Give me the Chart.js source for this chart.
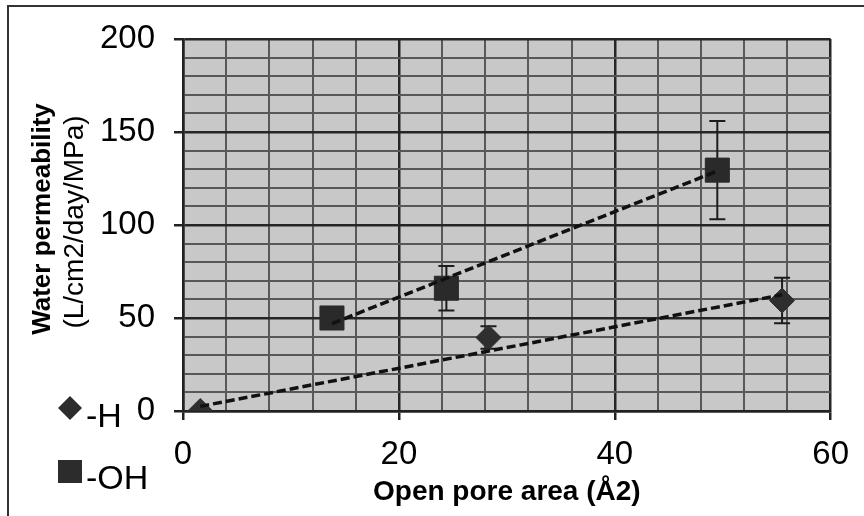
<!DOCTYPE html>
<html><head><meta charset="utf-8">
<script src="https://cdn.jsdelivr.net/npm/chart.js@4.4.1/dist/chart.umd.min.js"></script>
<style>html,body{margin:0;padding:0;background:#fff;}#wrap{position:relative;width:864px;height:516px;}</style>
</head><body><div id="wrap"><canvas id="c" width="864" height="516"></canvas></div>
<script>
// ---- data ----
const hArea = [1.6, 28.3, 55.5];
const hPerm = [0, 39.5, 59.4];
const hErr = [0, 6, 12.2];
const ohArea = [13.8, 24.4, 49.5];
const ohPerm = [50, 66, 129.5];
const ohErr = [0, 12, 26.4];
const hTrendArea = [1.6, 55.5];
const hTrendPerm = [2.5, 62.5];
const ohTrendArea = [13.8, 49.5];
const ohTrendPerm = [47, 129];
const xTickLabels = [0, 20, 40, 60];
const yTickLabels = [0, 50, 100, 150, 200];
const seriesNames = ['-H', '-OH'];
const xTitle = 'Open pore area (Å2)';
const yTitle1 = 'Water permeability';
const yTitle2 = '(L/cm2/day/MPa)';

const FONT = "'Liberation Sans', Arial, Helvetica, sans-serif";
const pts = (xs, ys) => xs.map((x, i) => ({x: x, y: ys[i]}));
const isMajor = (v, m) => Math.abs(v / m - Math.round(v / m)) < 1e-6;

const bgPlugin = {
  id: 'bg',
  beforeDraw(chart) {
    const {ctx, chartArea: a} = chart;
    ctx.save();
    ctx.fillStyle = '#ffffff';
    ctx.fillRect(0, 0, chart.width, chart.height);
    ctx.fillStyle = '#c8c8c8';
    ctx.fillRect(a.left, a.top, a.right - a.left, a.bottom - a.top);
    ctx.restore();
  }
};

const errPlugin = {
  id: 'errbars',
  beforeDatasetsDraw(chart) {
    const {ctx, scales: {x, y}} = chart;
    const sets = [[hArea, hPerm, hErr], [ohArea, ohPerm, ohErr]];
    ctx.save();
    ctx.strokeStyle = '#1c1c1c';
    ctx.lineWidth = 2;
    sets.forEach(([xs, ys, es]) => {
      xs.forEach((xv, i) => {
        if (!es[i]) return;
        const px = x.getPixelForValue(xv);
        const t = y.getPixelForValue(ys[i] + es[i]);
        const b = y.getPixelForValue(ys[i] - es[i]);
        ctx.beginPath();
        ctx.moveTo(px, t); ctx.lineTo(px, b);
        ctx.moveTo(px - 8, t); ctx.lineTo(px + 8, t);
        ctx.moveTo(px - 8, b); ctx.lineTo(px + 8, b);
        ctx.stroke();
      });
    });
    ctx.restore();
  }
};

const decoPlugin = {
  id: 'deco',
  afterDraw(chart) {
    const {ctx, chartArea: a} = chart;
    ctx.save();
    // outer frame (top and left)
    ctx.strokeStyle = '#333';
    ctx.lineWidth = 2;
    ctx.beginPath();
    ctx.moveTo(864, 6); ctx.lineTo(8, 6); ctx.lineTo(8, 516);
    ctx.stroke();
    // y title
    const cy = (a.top + a.bottom) / 2 - 6;
    ctx.fillStyle = '#000';
    ctx.textAlign = 'center';
    ctx.textBaseline = 'alphabetic';
    ctx.save();
    ctx.translate(50, cy); ctx.rotate(-Math.PI / 2);
    ctx.font = 'bold 26px ' + FONT;
    ctx.fillText(yTitle1, 0, 0);
    ctx.restore();
    ctx.save();
    ctx.translate(83, cy + 3); ctx.rotate(-Math.PI / 2);
    ctx.font = '28px ' + FONT;
    ctx.fillText(yTitle2, 0, 0);
    ctx.restore();
    // legend
    ctx.fillStyle = '#2c2c2c';
    ctx.beginPath();
    ctx.moveTo(70, 396); ctx.lineTo(82, 408); ctx.lineTo(70, 420); ctx.lineTo(58, 408); ctx.closePath();
    ctx.fill();
    ctx.fillRect(58, 460, 24, 23);
    ctx.fillStyle = '#000';
    ctx.textAlign = 'left';
    ctx.font = '34px ' + FONT;
    ctx.fillText(seriesNames[0], 86, 427);
    ctx.fillText(seriesNames[1], 86, 489);
    ctx.restore();
  }
};

const gridColor = (m) => (c) => isMajor(c.tick.value, m) ? '#262626' : '#585858';
const gridWidth = (m) => (c) => isMajor(c.tick.value, m) ? 2.5 : 2;
const tickColor = (m) => (c) => isMajor(c.tick.value, m) ? '#222' : 'rgba(0,0,0,0)';

new Chart(document.getElementById('c'), {
  type: 'scatter',
  data: {
    datasets: [
      {label: seriesNames[0] + ' trend', data: pts(hTrendArea, hTrendPerm), showLine: true,
       borderColor: '#111', borderWidth: 3.5, borderDash: [9, 4], pointRadius: 0, order: 0},
      {label: seriesNames[1] + ' trend', data: pts(ohTrendArea, ohTrendPerm), showLine: true,
       borderColor: '#111', borderWidth: 3.5, borderDash: [9, 4], pointRadius: 0, order: 0},
      {label: seriesNames[0], data: pts(hArea, hPerm), pointStyle: 'rectRot', pointRadius: 12.5,
       backgroundColor: '#2e2e2e', borderColor: '#2e2e2e', borderWidth: 1, order: 1},
      {label: seriesNames[1], data: pts(ohArea, ohPerm), pointStyle: 'rect', pointRadius: 17,
       backgroundColor: '#2a2a2a', borderColor: '#2a2a2a', borderWidth: 1, order: 1}
    ]
  },
  options: {
    responsive: false,
    animation: false,
    devicePixelRatio: 1,
    layout: {padding: {left: 0, right: 31, top: 39, bottom: 0}},
    plugins: {legend: {display: false}, tooltip: {enabled: false}},
    scales: {
      x: {
        type: 'linear', position: 'bottom', min: 0, max: 60,
        afterFit: (s) => { s.height = 105; },
        ticks: {stepSize: 4, autoSkip: false, maxRotation: 0, padding: 15,
          callback: (v) => xTickLabels.includes(v) ? String(v) : '',
          font: {size: 33, family: FONT}, color: '#000'},
        grid: {color: gridColor(20), lineWidth: gridWidth(20), tickLength: 9, tickColor: tickColor(20), tickWidth: 2.5},
        border: {display: true, color: '#222', width: 2.5},
        title: {display: true, text: xTitle, color: '#000',
          font: {size: 28, weight: 'bold', family: FONT}, padding: {top: 0, bottom: 7}}
      },
      y: {
        type: 'linear', position: 'left', min: 0, max: 200,
        afterFit: (s) => { s.width = 183; },
        ticks: {stepSize: 10, autoSkip: false, padding: 19,
          callback: (v) => yTickLabels.includes(v) ? String(v) : '',
          font: {size: 33, family: FONT}, color: '#000'},
        grid: {color: gridColor(50), lineWidth: gridWidth(50), tickLength: 9, tickColor: tickColor(50), tickWidth: 2.5},
        border: {display: true, color: '#222', width: 2.5},
        title: {display: false}
      }
    }
  },
  plugins: [bgPlugin, errPlugin, decoPlugin]
});
</script>
</body></html>
